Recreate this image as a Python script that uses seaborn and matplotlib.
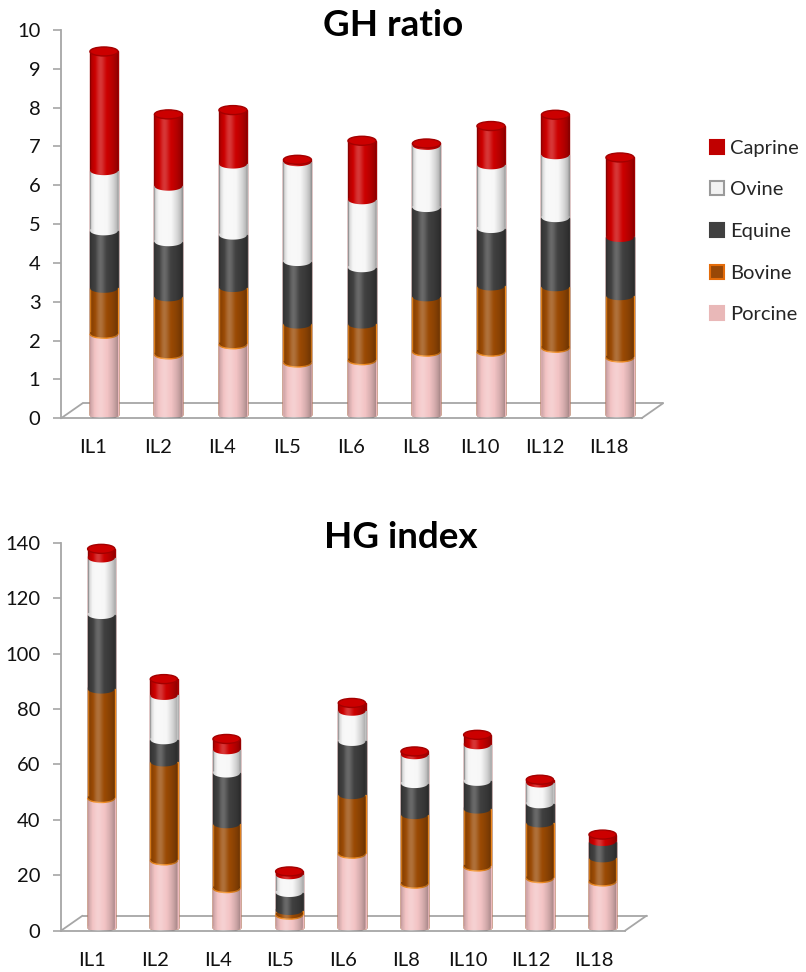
import numpy as np
import pandas as pd
import matplotlib
matplotlib.use("Agg")
import matplotlib.pyplot as plt
import seaborn as sns
from matplotlib.patches import Ellipse, Polygon, Patch, Arc
from matplotlib.transforms import ScaledTranslation

# ---------------------------------------------------------------- data
categories = ["IL1", "IL2", "IL4", "IL5", "IL6", "IL8", "IL10", "IL12", "IL18"]
species = ["Porcine", "Bovine", "Equine", "Ovine", "Caprine"]

# GH ratio, per stacked segment
gh_porcine = [2.10, 1.57, 1.83, 1.36, 1.42, 1.64, 1.64, 1.74, 1.49]
gh_bovine = [1.17, 1.48, 1.46, 0.99, 0.93, 1.41, 1.69, 1.57, 1.59]
gh_equine = [1.48, 1.42, 1.35, 1.61, 1.45, 2.30, 1.48, 1.78, 1.50]
gh_ovine = [1.55, 1.43, 1.83, 2.57, 1.75, 1.60, 1.64, 1.62, 0.00]
gh_caprine = [3.07, 1.85, 1.39, 0.05, 1.52, 0.05, 1.00, 1.03, 2.06]

# HG index, per stacked segment
hg_porcine = [46.8, 24.3, 14.3, 4.7, 26.7, 15.9, 22.1, 17.9, 16.7]
hg_bovine = [39.3, 35.5, 23.2, 1.5, 21.3, 24.9, 20.7, 19.9, 8.5]
hg_equine = [26.9, 8.0, 18.3, 6.5, 19.2, 11.2, 10.0, 6.9, 5.9]
hg_ovine = [20.4, 16.0, 8.4, 6.4, 10.9, 10.4, 13.2, 7.5, 0.0]
hg_caprine = [3.3, 5.9, 3.9, 1.2, 3.0, 1.2, 3.6, 1.2, 2.5]

gh_ticks = list(range(0, 11, 1))
hg_ticks = list(range(0, 141, 20))

# ---------------------------------------------------------------- style
FACE = {"Porcine": "#F3C4C5", "Bovine": "#9A4A04", "Equine": "#404040",
        "Ovine": "#F7F7F7", "Caprine": "#CC0000"}
EDGE = {"Porcine": "#EDB9BC", "Bovine": "#F08A1E", "Equine": "#3A3A3A",
        "Ovine": "#B0B0B0", "Caprine": "#A30000"}
LEGEND_FACE = {"Porcine": "#E9B8B8", "Bovine": "#984807", "Equine": "#404040",
               "Ovine": "#F2F2F2", "Caprine": "#C00000"}
LEGEND_EDGE = {"Porcine": "#E9B8B8", "Bovine": "#E46C0A", "Equine": "#404040",
               "Ovine": "#9A9A9A", "Caprine": "#C00000"}
AXIS_GREY = "#A6A6A6"

W_PX, H_PX, DPI = 806, 972, 100
BAR_W = 0.435
CAP_PX = 4.5          # half height of the cylinder ellipses, pixels
LIFT_PX = 3.0         # columns stand a little behind the front edge

sns.set_theme(style="white")
plt.rcParams["font.family"] = ["Lato", "DejaVu Sans"]

fig = plt.figure(figsize=(W_PX / DPI, H_PX / DPI), dpi=DPI)


def half_ellipse(cx, cy, a, b, n=40):
    t = np.linspace(np.pi, 2 * np.pi, n)
    return np.column_stack([cx + a * np.cos(t), cy + b * np.sin(t)])


def shade_image():
    u = np.linspace(0, 1, 200)
    delta = 0.22 * np.exp(-((u - 0.36) / 0.16) ** 2) - 0.34 * (np.abs(u - 0.42) / 0.58) ** 2.2
    rgba = np.zeros((1, u.size, 4))
    rgba[0, :, :3] = np.where(delta > 0, 1.0, 0.0)[:, None]
    rgba[0, :, 3] = np.abs(delta)
    return rgba


def cylinder_panel(rect, table, ticks, shift, depth, title, title_xy):
    ax = fig.add_axes(rect)
    ymax = ticks[-1]
    ax_w = rect[2] * W_PX
    ax_h = rect[3] * H_PX
    px_per_y = ax_h / ymax
    b = CAP_PX / px_per_y
    a = BAR_W / 2

    lift = ScaledTranslation(0, LIFT_PX / DPI, fig.dpi_scale_trans)
    trans = ax.transData + lift

    cum = table[species].cumsum(axis=1)

    # stacked columns: cumulative totals, tallest first
    for sp in reversed(species):
        n_before = len(ax.patches)
        sns.barplot(x=categories, y=cum[sp].values, order=categories, color=FACE[sp],
                    saturation=1, width=BAR_W, errorbar=None, ax=ax,
                    edgecolor=EDGE[sp], linewidth=1.0)
        for p in ax.patches[n_before:]:
            p.set_transform(trans)
            p.set_zorder(1)

    shade = shade_image()
    for i, cat in enumerate(categories):
        row = table.loc[cat]
        levels = cum.loc[cat]
        present = [sp for sp in species if row[sp] > 0]
        total = levels[present[-1]]

        # curved seams: bottom rim of each segment, overlapping the seam slightly
        base = 0.0
        for sp in present:
            top = levels[sp]
            over = min(base + 0.35 * b, top)
            rim = np.vstack([half_ellipse(i, base, a * 0.985, b),
                             [[i + a * 0.985, over], [i - a * 0.985, over]]])
            ax.add_patch(Polygon(rim, closed=True, facecolor=FACE[sp], edgecolor="none",
                                 transform=trans, zorder=2))
            if sp == "Bovine":
                ax.add_patch(Arc((i, base), 2 * a, 2 * b, theta1=180, theta2=360,
                                 color=EDGE[sp], lw=1.0, transform=trans, zorder=2))
            base = top

        # rounded shading of the cylinder body
        body = np.vstack([[[i - a, total]], half_ellipse(i, 0, a, b), [[i + a, total]]])
        clip = Polygon(body, closed=True, transform=trans)
        im = ax.imshow(shade, extent=(i - a, i + a, -b, total), aspect="auto",
                       interpolation="bilinear", zorder=3)
        im.set_transform(trans)
        im.set_clip_path(clip)

        # top cap
        top_sp = present[-1]
        ax.add_patch(Ellipse((i, total), 2 * a, 2 * b, facecolor=FACE[top_sp],
                             edgecolor=EDGE[top_sp], lw=1.0, transform=trans, zorder=4))

    # axes frame
    n = len(categories)
    ax.set_xlim(-0.5 - shift, n - 0.5 - shift)
    ax.set_ylim(0, ymax)
    ax.set_yticks(ticks)
    ax.set_yticklabels([str(t) for t in ticks])
    ax.set_xticks(np.arange(n) - shift)
    ax.set_xticklabels(categories)
    ax.set_xticks(np.arange(n + 1) - 0.5 - shift, minor=True)
    ax.set_xlabel("")
    ax.set_ylabel("")
    ax.tick_params(axis="x", which="major", length=0, pad=15, labelsize=14.5,
                   labelcolor="#111111")
    ax.tick_params(axis="x", which="minor", length=4.5, width=1.2, color=AXIS_GREY,
                   direction="out")
    ax.tick_params(axis="y", length=5.8, width=1.2, color=AXIS_GREY, direction="out",
                   pad=9, labelsize=14.5, labelcolor="#111111", left=True)
    for side in ("top", "right"):
        ax.spines[side].set_visible(False)
    for side in ("left", "bottom"):
        ax.spines[side].set_color(AXIS_GREY)
        ax.spines[side].set_linewidth(1.3)
    ax.grid(False)
    ax.set_facecolor("none")

    # floor of the 3-D box
    dx, dy = depth[0] / ax_w, depth[1] / ax_h
    floor_kw = dict(color=AXIS_GREY, lw=1.3, transform=ax.transAxes, clip_on=False, zorder=0)
    ax.plot([0, dx], [0, dy], **floor_kw)
    ax.plot([dx, 1 + dx], [dy, dy], **floor_kw)
    ax.plot([1, 1 + dx], [0, dy], **floor_kw)

    fig.text(title_xy[0] / W_PX, 1 - title_xy[1] / H_PX, title, ha="center", va="center",
             fontsize=26.5, fontweight="bold", color="black")
    return ax


gh = pd.DataFrame({"Porcine": gh_porcine, "Bovine": gh_bovine, "Equine": gh_equine,
                   "Ovine": gh_ovine, "Caprine": gh_caprine}, index=categories)
hg = pd.DataFrame({"Porcine": hg_porcine, "Bovine": hg_bovine, "Equine": hg_equine,
                   "Ovine": hg_ovine, "Caprine": hg_caprine}, index=categories)

cylinder_panel([61 / W_PX, (H_PX - 418.3) / H_PX, 580.5 / W_PX, 388.3 / H_PX],
               gh, gh_ticks, shift=0.166, depth=(21.5, 15.0),
               title="GH ratio", title_xy=(393, 25))
cylinder_panel([61 / W_PX, (H_PX - 930.7) / H_PX, 564 / W_PX, 388 / H_PX],
               hg, hg_ticks, shift=0.142, depth=(21.5, 15.0),
               title="HG index", title_xy=(401, 538))

handles = [Patch(facecolor=LEGEND_FACE[sp], edgecolor=LEGEND_EDGE[sp], linewidth=1.5, label=sp)
           for sp in reversed(species)]
fig.legend(handles=handles, loc="center left", bbox_to_anchor=(710 / W_PX, 1 - 231.5 / H_PX),
           frameon=False, fontsize=14.5, handlelength=0.7, handleheight=0.7,
           handletextpad=0.3, labelspacing=1.22, borderpad=0, borderaxespad=0)

fig.savefig("out.png", dpi=DPI, facecolor="white")
